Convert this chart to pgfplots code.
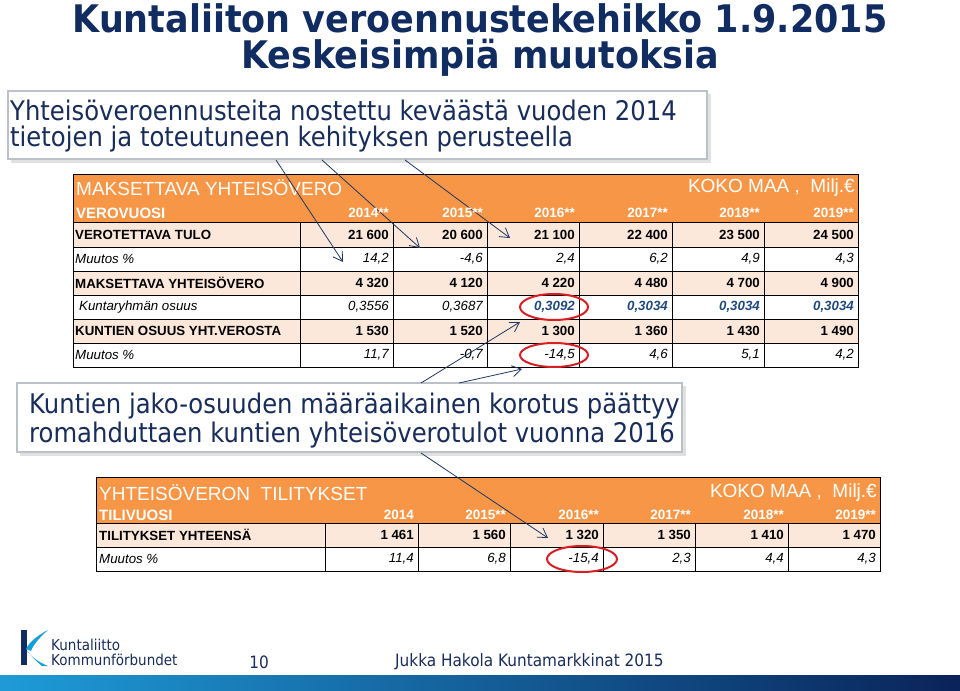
\documentclass[border=0pt]{standalone}
\usepackage{pgfplots}
\pgfplotsset{compat=1.18}
\usepackage{pgfplotstable}
\usepackage{fontspec}
\usetikzlibrary{arrows.meta}
\setmainfont{Liberation Sans}
\newfontfamily\slidefont[FakeStretch=0.9]{DejaVu Sans}
\newfontfamily\titlefont[FakeStretch=0.92]{DejaVu Sans}

\definecolor{navy}{RGB}{17,44,96}
\definecolor{txtnavy}{RGB}{25,45,90}
\definecolor{hdrorange}{RGB}{247,150,70}
\definecolor{peach}{RGB}{252,232,218}
\definecolor{cellblue}{RGB}{31,73,125}
\definecolor{arrownavy}{RGB}{30,55,100}
\definecolor{boxedge}{RGB}{188,192,200}
\definecolor{ringred}{RGB}{215,30,35}
\definecolor{logoblue}{RGB}{20,160,215}
\definecolor{barleft}{RGB}{30,155,215}
\definecolor{barmid}{RGB}{15,85,150}
\definecolor{barright}{RGB}{10,35,90}

\newcommand\fs[1]{\fontsize{#1}{#1}\selectfont}

% maksettava yhteisovero, koko maa, milj. euroa
\pgfplotstableread{
x   vuosi tulo  mtulo vero osuus  kunta mkunta
389 2014  21600 14.2  4320 0.3556 1530  11.7
483 2015  20600 -4.6  4120 0.3687 1520  -0.7
575 2016  21100 2.4   4220 0.3092 1300  -14.5
668 2017  22400 6.2   4480 0.3034 1360  4.6
760 2018  23500 4.9   4700 0.3034 1430  5.1
854 2019  24500 4.3   4900 0.3034 1490  4.2
}\verotaulu

% yhteisoveron tilitykset
\pgfplotstableread{
x   vuosi  tilit mtilit
414 2014   1461  11.4
506 2015** 1560  6.8
599 2016** 1320  -15.4
691 2017** 1350  2.3
784 2018** 1410  4.4
876 2019** 1470  4.3
}\tilitaulu

\pgfplotsset{
  cellval/.style={draw=none, mark=none, nodes near coords, point meta=explicit,
    nodes near coords style={anchor=east, inner sep=0pt, font=\fs{13}}},
  thou/.style={/pgf/number format/fixed, /pgf/number format/precision=0,
    /pgf/number format/1000 sep={\ }},
  pct/.style={/pgf/number format/fixed, /pgf/number format/fixed zerofill,
    /pgf/number format/precision=1, /pgf/number format/use comma},
  shr/.style={/pgf/number format/fixed, /pgf/number format/fixed zerofill,
    /pgf/number format/precision=4, /pgf/number format/use comma},
}

\begin{document}
\begin{tikzpicture}
\begin{axis}[
  width=960pt, height=690pt, scale only axis,
  xmin=0, xmax=960, ymin=0, ymax=690, y dir=reverse,
  hide axis, clip=false,
  /pgf/number format/assume math mode=true,
]
% title
\node[font=\titlefont\bfseries\fs{38}, text=navy] at (480,18) {Kuntaliiton veroennustekehikko 1.9.2015};
\node[font=\titlefont\bfseries\fs{38}, text=navy] at (480,58) {Keskeisimpiä muutoksia};

% callout 1
\fill[black!12] (11,94) rectangle (711,163);
\draw[boxedge, line width=2.5pt, fill=white] (8,91) rectangle (707,159);
\node[anchor=west, inner sep=0pt, text=txtnavy, font=\slidefont\fs{27}] at (10,110) {Yhteisöveroennusteita nostettu keväästä vuoden 2014};
\node[anchor=west, inner sep=0pt, text=txtnavy, font=\slidefont\fs{27}] at (10,139) {tietojen ja toteutuneen kehityksen perusteella};

% table 1 backgrounds
\fill[hdrorange] (73,174) rectangle (858,222);
\fill[peach] (73,222) rectangle (858,247);
\fill[peach] (73,271) rectangle (858,295);
\fill[peach] (73,319) rectangle (858,343);
\draw[black, line width=0.9pt] (73,174) rectangle (858,367);
\draw[black, line width=0.9pt] (73,222) -- (858,222) (73,247) -- (858,247) (73,271) -- (858,271)
  (73,295) -- (858,295) (73,319) -- (858,319) (73,343) -- (858,343);
\draw[black, line width=0.9pt] (300,222) -- (300,367) (393,222) -- (393,367) (487,222) -- (487,367)
  (579,222) -- (579,367) (672,222) -- (672,367) (764,222) -- (764,367);

% table 1 labels
\node[anchor=west, inner sep=0pt, text=white, font=\fs{19}] at (76,188) {MAKSETTAVA YHTEISÖVERO};
\node[anchor=east, inner sep=0pt, text=white, font=\fs{19}] at (855,188) {KOKO MAA ,\ \ Milj.€};
\node[anchor=west, inner sep=0pt, text=white, font=\fs{15}\bfseries] at (76,213) {VEROVUOSI};
\node[anchor=west, inner sep=0pt, font=\fs{13.3}\bfseries] at (75,234.5) {VEROTETTAVA TULO};
\node[anchor=west, inner sep=0pt, font=\fs{13.3}\itshape] at (75,259) {Muutos \%};
\node[anchor=west, inner sep=0pt, font=\fs{13.3}\bfseries] at (75,283) {MAKSETTAVA YHTEISÖVERO};
\node[anchor=west, inner sep=0pt, font=\fs{13.3}\itshape] at (79,307) {Kuntaryhmän osuus};
\node[anchor=west, inner sep=0pt, font=\fs{13.3}\bfseries] at (75,331) {KUNTIEN OSUUS YHT.VEROSTA};
\node[anchor=west, inner sep=0pt, font=\fs{13.3}\itshape] at (75,355) {Muutos \%};

% table 1 values
\addplot[cellval, nodes near coords={\pgfmathprintnumber[1000 sep={}]{\pgfplotspointmeta}**},
  nodes near coords style={font=\fs{13.5}\bfseries, text=white}]
  table[x=x, y expr=213, meta=vuosi] {\verotaulu};
\addplot[cellval, thou, nodes near coords style={font=\fs{13.3}\bfseries}]
  table[x=x, y expr=234.5, meta=tulo] {\verotaulu};
\addplot[cellval, pct, nodes near coords style={font=\fs{13.3}\itshape}]
  table[x=x, y expr=259, meta=mtulo] {\verotaulu};
\addplot[cellval, thou, nodes near coords style={font=\fs{13.3}\bfseries}]
  table[x=x, y expr=283, meta=vero] {\verotaulu};
\addplot[cellval, shr, skip coords between index={2}{6}, nodes near coords style={font=\fs{13.3}\itshape}]
  table[x=x, y expr=307, meta=osuus] {\verotaulu};
\addplot[cellval, shr, skip coords between index={0}{2}, nodes near coords style={font=\fs{13.3}\bfseries\itshape, text=cellblue}]
  table[x=x, y expr=307, meta=osuus] {\verotaulu};
\addplot[cellval, thou, nodes near coords style={font=\fs{13.3}\bfseries}]
  table[x=x, y expr=331, meta=kunta] {\verotaulu};
\addplot[cellval, pct, nodes near coords style={font=\fs{13.3}\itshape}]
  table[x=x, y expr=355, meta=mkunta] {\verotaulu};

% callout 2
\fill[black!12] (20,386) rectangle (686,456);
\draw[boxedge, line width=2.5pt, fill=white] (17,383) rectangle (682,452);
\node[anchor=west, inner sep=0pt, text=txtnavy, font=\slidefont\fs{27}] at (29,406) {Kuntien jako-osuuden määräaikainen korotus päättyy};
\node[anchor=west, inner sep=0pt, text=txtnavy, font=\slidefont\fs{27}] at (29,435) {romahduttaen kuntien yhteisöverotulot vuonna 2016};

% table 2 backgrounds
\fill[hdrorange] (96,477) rectangle (880,523);
\fill[peach] (96,523) rectangle (880,547);
\draw[black, line width=0.9pt] (96,477) rectangle (880,571);
\draw[black, line width=0.9pt] (96,523) -- (880,523) (96,547) -- (880,547);
\draw[black, line width=0.9pt] (325,523) -- (325,571) (418,523) -- (418,571) (510,523) -- (510,571)
  (603,523) -- (603,571) (695,523) -- (695,571) (788,523) -- (788,571);

% table 2 labels
\node[anchor=west, inner sep=0pt, text=white, font=\fs{19}] at (99,493) {YHTEISÖVERON\ \ TILITYKSET};
\node[anchor=east, inner sep=0pt, text=white, font=\fs{19}] at (877,493) {KOKO MAA ,\ \ Milj.€};
\node[anchor=west, inner sep=0pt, text=white, font=\fs{15}\bfseries] at (99,515) {TILIVUOSI};
\node[anchor=west, inner sep=0pt, font=\fs{13.3}\bfseries] at (99,535) {TILITYKSET YHTEENSÄ};
\node[anchor=west, inner sep=0pt, font=\fs{13.3}\itshape] at (99,559) {Muutos \%};

% table 2 values
\addplot[cellval, point meta=explicit symbolic, nodes near coords style={font=\fs{13.5}\bfseries, text=white}]
  table[x=x, y expr=515, meta=vuosi] {\tilitaulu};
\addplot[cellval, thou, nodes near coords style={font=\fs{13.3}\bfseries}]
  table[x=x, y expr=535, meta=tilit] {\tilitaulu};
\addplot[cellval, pct, nodes near coords style={font=\fs{13.3}\itshape}]
  table[x=x, y expr=559, meta=mtilit] {\tilitaulu};

% red rings
\draw[ringred, line width=2pt] (554,307) ellipse [x radius=34pt, y radius=13pt];
\draw[ringred, line width=2pt] (554,355) ellipse [x radius=34pt, y radius=12pt];
\draw[ringred, line width=2pt] (582,559) ellipse [x radius=35pt, y radius=13pt];

% arrows
\begin{scope}[arrownavy, line width=0.8pt, -{Straight Barb[length=9pt, width=11pt]}]
\draw (276,160) -- (343,262);
\draw (322,160) -- (420,248);
\draw (405,160) -- (510,238);
\draw (421,383) -- (520,322);
\draw (459,383) -- (522,369);
\draw (421,453) -- (548,538);
\end{scope}

% footer
\fill[navy] (21,630) rectangle (27,665);
\fill[logoblue] (48,630) .. controls (36,636) and (28,644) .. (26,649)
  -- (31,651) .. controls (33,645) and (40,637) .. (48,630) -- cycle;
\fill[logoblue] (26,649) .. controls (30,656) and (38,662) .. (48,666)
  -- (42,666) .. controls (36,661) and (30,655) .. (26,649) -- cycle;
\node[anchor=west, inner sep=0pt, text=txtnavy, font=\slidefont\fs{15}] at (51,645) {Kuntaliitto};
\node[anchor=west, inner sep=0pt, text=txtnavy, font=\slidefont\fs{15}] at (51,660) {Kommunförbundet};
\node[inner sep=0pt, text=txtnavy, font=\slidefont\fs{17}] at (259,662) {10};
\node[anchor=west, inner sep=0pt, text=txtnavy, font=\slidefont\fs{17}] at (395,662) {Jukka Hakola Kuntamarkkinat 2015};
\shade[left color=barleft, middle color=barmid, right color=barright] (0,675) rectangle (960,690);
\end{axis}
\pgfresetboundingbox
\path[use as bounding box] (current axis.south west) rectangle (current axis.north east);
\end{tikzpicture}
\end{document}
